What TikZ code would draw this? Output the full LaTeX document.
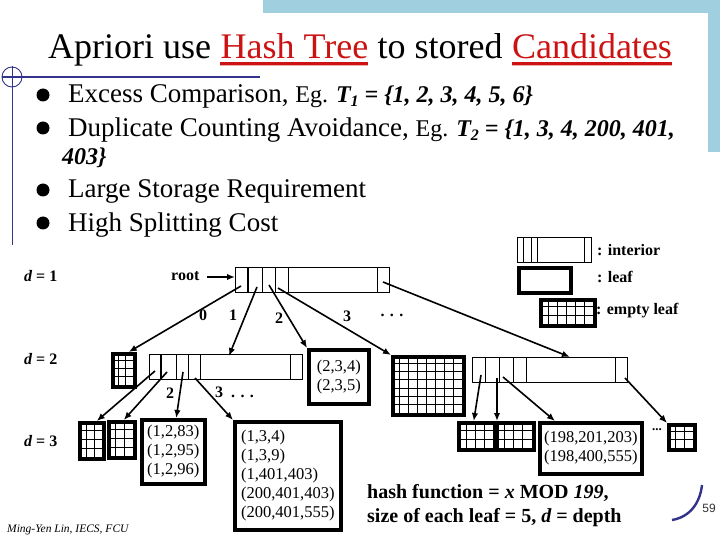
\documentclass[tikz,border=0pt]{standalone}
\usepackage{fontspec}
\setmainfont{Liberation Serif}
\newfontfamily\sansf{Liberation Sans}
\usetikzlibrary{arrows.meta}
\definecolor{titlered}{RGB}{204,18,18}
\definecolor{deco}{RGB}{51,51,140}
\definecolor{band}{RGB}{160,208,224}
\tikzset{
  titlef/.style={font=\fontsize{36}{40}\selectfont, inner sep=0, anchor=base west},
  bul/.style={font=\fontsize{27}{32}\selectfont, inner sep=0, anchor=base west},
  bdot/.style={circle, fill=black, inner sep=0, minimum size=13pt},
  intnode/.style={draw, line width=0.8pt, inner sep=0, anchor=north west, rectangle},
  leafnode/.style={draw, line width=3.5pt, inner sep=0, anchor=north west, rectangle},
  gridl/.style={line width=0.9pt},
  cell/.style={line width=0.8pt},
  arr/.style={-{Latex[length=8pt,width=6.5pt]}, line width=1.6pt},
  lbl/.style={font=\fontsize{16}{19}\selectfont\bfseries, inner sep=0},
  leaftext/.style={font=\fontsize{16.5}{19}\selectfont},
  bottomf/.style={font=\fontsize{20}{24}\selectfont\bfseries, inner sep=0, anchor=base west},
}
\newcommand\egf{\fontsize{24}{28}\selectfont}
\newcommand\subdig[1]{\raisebox{-4pt}{\fontsize{16}{18}\selectfont #1}}
\newcommand\gridleaf[7]{%
  \node[leafnode, minimum width={#4-#2}, minimum height={#5-#3}] (#1) at (#2,#3) {};
  \foreach \k in {1,...,#6}{\pgfmathsetmacro\gx{#2+\k*(#4-#2)/(#6+1)}\draw[gridl] (\gx,#3) -- (\gx,#5);}
  \foreach \k in {1,...,#7}{\pgfmathsetmacro\gy{#3+\k*(#5-#3)/(#7+1)}\draw[gridl] (#2,\gy) -- (#4,\gy);}
}
\begin{document}
\begin{tikzpicture}[x=1pt,y=-1pt]
\useasboundingbox (0,0) rectangle (720,540);
\fill[white] (0,0) rectangle (720,540);
% decorative bands
\fill[band] (263,0) rectangle (720,13);
\fill[band] (708,0) rectangle (720,152);
% left decoration
\draw[deco, line width=1.6pt] (2,77) -- (260,77);
\draw[deco, line width=0.9pt] (12,66) -- (12,245);
\draw[deco, line width=0.9pt] (12,77) circle (10pt);
% title
\node[titlef] (t1) at (48,59) {Apriori use};
\node[titlef, text=titlered] (t2) at ([xshift=9pt]t1.base east) {Hash Tree};
\node[titlef] (t3) at ([xshift=9pt]t2.base east) {to stored};
\node[titlef, text=titlered] (t4) at ([xshift=9pt]t3.base east) {Candidates};
\draw[titlered!35, line width=1.5pt] ([yshift=-6.5pt]t2.base west) -- ([yshift=-6.5pt]t2.base east);
\draw[titlered!35, line width=1.5pt] ([yshift=-6.5pt]t4.base west) -- ([yshift=-6.5pt]t4.base east);
\draw[titlered, line width=2.6pt] ([yshift=-4.5pt]t2.base west) -- ([yshift=-4.5pt]t2.base east);
\draw[titlered, line width=2.6pt] ([yshift=-4.5pt]t4.base west) -- ([yshift=-4.5pt]t4.base east);
% bullets
\node[bdot] (b1) at (43,95) {};
\node[bdot] (b2) at (43,128) {};
\node[bdot] (b3) at (43,190) {};
\node[bdot] (b4) at (43,223) {};
\node[bul] (x1) at (68,103) {Excess Comparison, {\egf Eg. {\bfseries\itshape T\subdig{1} = \{1, 2, 3, 4, 5, 6\}}}};
\node[bul] (x2) at (68,137) {Duplicate Counting Avoidance, {\egf Eg. {\bfseries\itshape T\subdig{2} = \{1, 3, 4, 200, 401,}}};
\node[bul] (x2b) at (62,165) {\egf\bfseries\itshape 403\}};
\node[bul] (x3) at (68,197) {Large Storage Requirement};
\node[bul] (x4) at (68,231) {High Splitting Cost};
% legend
\node[intnode, minimum width=74pt, minimum height=25pt] (legint) at (517,237) {};
\foreach \xx in {523,531,537,584} \draw[cell] (\xx,237) -- (\xx,262);
\node[lbl, anchor=west] (legintt) at (597,250) {: interior};
\node[leafnode, minimum width=52pt, minimum height=25pt] (legleaf) at (517,266) {};
\node[lbl, anchor=west] (legleaft) at (597,277) {: leaf};
\gridleaf{legempty}{539}{298}{593}{324}{5}{2}
\node[lbl, anchor=west] (legemptyt) at (596,311) {: empty leaf};
% depth labels
\node[lbl, anchor=west] (d1) at (24,276) {\itshape d\upshape{} = 1};
\node[lbl, anchor=west] (d2) at (24,359) {\itshape d\upshape{} = 2};
\node[lbl, anchor=west] (d3) at (24,441) {\itshape d\upshape{} = 3};
% root
\node[lbl, anchor=west] (rootlbl) at (171,276) {root};
\node[intnode, minimum width=154pt, minimum height=25pt] (root) at (235,267) {};
\draw[line width=2pt] (248,267) -- (248,292);
\foreach \xx in {262,275,288,377} \draw[cell] (\xx,267) -- (\xx,292);
\coordinate (rs) at (207,277);
\draw[arr] (rs) -- (rs -| root.west);
% level 2
\gridleaf{L2a}{111}{352}{133}{385}{2}{3}
\node[intnode, minimum width=153pt, minimum height=25pt] (I2a) at (149,354) {};
\draw[line width=2pt] (161,354) -- (161,379);
\foreach \xx in {176,188,200,290} \draw[cell] (\xx,354) -- (\xx,379);
\node[leafnode, minimum width=60pt, minimum height=54pt, leaftext, align=center] (L234) at (307,348) {(2,3,4)\\(2,3,5)};
\gridleaf{Lbig}{391}{355}{462}{413}{7}{6}
\node[intnode, minimum width=155pt, minimum height=25pt] (I2b) at (472,357) {};
\foreach \xx in {485,499,513,526,615} \draw[cell] (\xx,357) -- (\xx,382);
% level 3
\gridleaf{L3a}{78}{421}{102}{457}{2}{3}
\gridleaf{L3b}{107}{420}{133}{456}{2}{3}
\node[leafnode, minimum width=63pt, minimum height=64pt, leaftext, align=center] (L1283) at (140,418) {(1,2,83)\\(1,2,95)\\(1,2,96)};
\node[leafnode, minimum width=106pt, minimum height=108pt, leaftext, align=left] (L134) at (233,420) {(1,3,4)\\(1,3,9)\\(1,401,403)\\(200,401,403)\\(200,401,555)};
\gridleaf{L3c}{457}{421}{493}{448}{3}{2}
\gridleaf{L3d}{495}{421}{532}{448}{3}{2}
\node[leafnode, minimum width=102pt, minimum height=51pt, leaftext, align=center] (L198) at (538,421) {(198,201,203)\\(198,400,555)};
\gridleaf{L3e}{667}{423}{693}{448}{2}{2}
\node[font=\fontsize{13}{15}\selectfont\bfseries, inner sep=0] (dotsr) at (657,430) {...};
% edges from root
\coordinate (r0) at (241,286);
\coordinate (r1) at (257,287);
\coordinate (r2) at (269,285);
\coordinate (r3) at (278,288);
\coordinate (r4) at (383,282);
\draw[arr] (r0) -- ([xshift=5pt]L2a.north);
\draw[arr] (r1) -- ([xshift=3pt,yshift=-2pt]I2a.north);
\draw[arr] (r2) -- (L234.north west);
\draw[arr] (r3) -- (Lbig.north west);
\draw[arr] (r4) -- ([xshift=20pt]I2b.north);
\node[lbl] (e0) at (203,315) {0};
\node[lbl] (e1) at (233,315) {1};
\node[lbl] (e2) at (279,318) {2};
\node[lbl] (e3) at (347,316) {3};
\node[lbl] (e4) at (392,315) {. . .};
% edges from I2a
\coordinate (a0) at (155,371);
\coordinate (a1) at (167,372);
\coordinate (a2) at (183,372);
\coordinate (a3) at (195,378);
\draw[arr] (a0) -- ([xshift=5pt]L3a.north);
\draw[arr] (a1) -- ([xshift=2pt]L3b.north);
\draw[arr] (a2) -- ([xshift=3pt]L1283.north);
\draw[arr] (a3) -- (L134.north west);
\node[lbl] (f2) at (170,393) {2};
\node[lbl, anchor=west] (f3) at (215,392) {3\ \ . . .};
% edges from I2b
\coordinate (c0) at (481,375);
\coordinate (c1) at (497,378);
\coordinate (c2) at (503,377);
\coordinate (c3) at (625,378);
\draw[arr] (c0) -- ([xshift=-3pt]L3c.north);
\draw[arr] (c1) -- ([xshift=2pt]L3d.north west);
\draw[arr] (c2) -- ([xshift=17pt]L198.north west);
\draw[arr] (c3) -- (L3e.north west);
% bottom text
\node[bottomf] (h1) at (367,498) {hash function = {\itshape x} MOD {\itshape 199},};
\node[bottomf] (h2) at (367,522) {size of each leaf = 5, {\itshape d} = depth};
\node[font=\fontsize{11.5}{13}\selectfont\itshape, inner sep=0, anchor=base west] (auth) at (7,532) {Ming-Yen Lin, IECS, FCU};
% page number and arc
\draw[deco, line width=2.4pt] (672,520) .. controls (690,517) and (700,503) .. (702,485);
\node[font=\sansf\fontsize{12}{14}\selectfont, text=black!80, inner sep=0] (pg) at (709,508) {59};
\end{tikzpicture}
\end{document}
